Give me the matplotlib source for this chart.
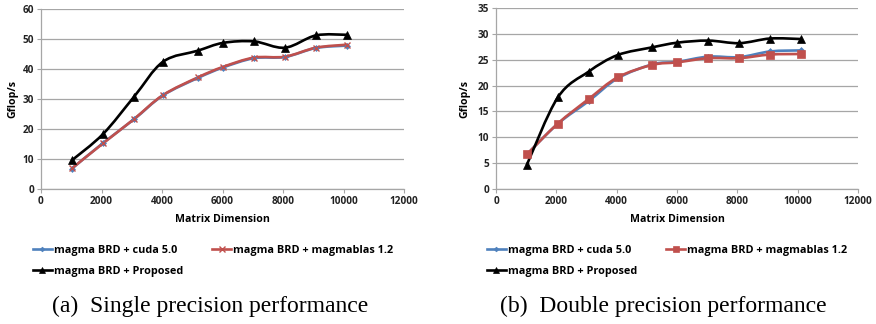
import numpy as np
import matplotlib
matplotlib.use("Agg")
import matplotlib.pyplot as plt
from matplotlib.path import Path
from matplotlib.patches import PathPatch
from matplotlib.lines import Line2D

# matrix sizes
sizes = [1024, 2048, 3072, 4032, 5184, 6016, 7040, 8064, 9088, 10112]

# single precision (Gflop/s)
sp_cuda = [6.8, 15.3, 23.2, 31.2, 37.0, 40.5, 43.6, 44.0, 47.0, 47.8]
sp_magmablas = [6.9, 15.2, 23.3, 31.3, 37.2, 40.7, 43.8, 44.1, 47.1, 48.1]
sp_proposed = [9.6, 18.3, 30.7, 42.4, 46.1, 48.7, 49.2, 47.1, 51.2, 51.4]

# double precision (Gflop/s)
dp_cuda = [6.7, 12.6, 17.0, 21.4, 24.1, 24.6, 25.6, 25.5, 26.6, 26.8]
dp_magmablas = [6.7, 12.65, 17.4, 21.6, 24.0, 24.5, 25.3, 25.3, 26.0, 26.1]
dp_proposed = [4.7, 17.7, 22.7, 25.9, 27.4, 28.3, 28.7, 28.2, 29.1, 29.0]

labels = ["magma BRD + cuda 5.0", "magma BRD + magmablas 1.2", "magma BRD + Proposed"]
captions = ["(a)  Single precision performance", "(b)  Double precision performance"]

BLUE = "#4F81BD"
RED = "#C0504D"
GRID = "#A6A6A6"
TICKFONT = dict(family="Open Sans", weight="bold", size=7.2)


def smooth_line(ax, x, y, color, lw=1.9, zorder=2):
    # Excel-style smoothed line: cubic Bezier segments through the points
    p = np.column_stack([x, y]).astype(float)
    ext = np.vstack([p[0], p, p[-1]])
    verts = [tuple(p[0])]
    codes = [Path.MOVETO]
    for i in range(len(p) - 1):
        p0, p1, p2, p3 = ext[i], ext[i + 1], ext[i + 2], ext[i + 3]
        c1 = p1 + (p2 - p0) / 6.0
        c2 = p2 - (p3 - p1) / 6.0
        verts += [tuple(c1), tuple(c2), tuple(p2)]
        codes += [Path.CURVE4] * 3
    patch = PathPatch(Path(verts, codes), facecolor="none", edgecolor=color,
                      lw=lw, zorder=zorder, transform=ax.transData,
                      capstyle="round", joinstyle="round")
    ax.add_patch(patch)


def draw_panel(ax, series, markers, ymax, ystep, ypad):
    colors = [BLUE, RED, "black"]
    for k in [1, 0, 2]:
        smooth_line(ax, sizes, series[k], colors[k], zorder=2 + k)
        ms = markers[k]
        ax.plot(sizes, series[k], linestyle="none", marker=ms[0], markersize=ms[1],
                color=colors[k], markeredgewidth=ms[2], zorder=5 + k)

    ax.set_xlim(0, 12000)
    ax.set_ylim(0, ymax)
    ax.set_xticks(np.arange(0, 12001, 2000))
    ax.set_yticks(np.arange(0, ymax + 0.1, ystep))
    ax.yaxis.grid(True, color=GRID, lw=0.9)
    ax.set_axisbelow(True)
    for s in ["top", "right"]:
        ax.spines[s].set_visible(False)
    for s in ["left", "bottom"]:
        ax.spines[s].set_color(GRID)
        ax.spines[s].set_linewidth(0.9)
    ax.tick_params(axis="both", length=3, color=GRID, pad=2)
    for t in ax.get_xticklabels() + ax.get_yticklabels():
        t.set_fontproperties(TICKFONT)
        t.set_color("#222222")
    ax.set_xlabel("Matrix Dimension", family="Open Sans", weight="bold", size=7.6, labelpad=5)
    ax.set_ylabel("Gflop/s", family="Open Sans", weight="bold", size=7.6, labelpad=ypad)

    handles = []
    for k in [0, 2, 1]:
        ms = markers[k]
        handles.append(Line2D([], [], color=colors[k], lw=1.9, marker=ms[0],
                              markersize=ms[1] * 0.8, markeredgewidth=ms[2],
                              label=labels[k]))
    return handles


fig = plt.figure(figsize=(8.76, 3.24), dpi=100)
W, H = 876.0, 324.0

ax1 = fig.add_axes([41 / W, 1 - 189 / H, (404 - 41) / W, (189 - 9) / H])
ax2 = fig.add_axes([496 / W, 1 - 189 / H, (858 - 496) / W, (189 - 8) / H])

h1 = draw_panel(ax1, [sp_cuda, sp_magmablas, sp_proposed],
                [("D", 3, 0.5), ("x", 5, 1.0), ("^", 5.5, 0.5)], 60, 10, 3)
h2 = draw_panel(ax2, [dp_cuda, dp_magmablas, dp_proposed],
                [("D", 3, 0.5), ("s", 5.5, 0.5), ("^", 5.5, 0.5)], 35, 5, 5)

legfont = dict(family="Open Sans", weight="bold", size=7.8)
for hs, x0 in [(h1, 33), (h2, 487)]:
    fig.legend(handles=hs, ncol=2, loc="upper left",
               bbox_to_anchor=(x0 / W, 1 - 245 / H), frameon=False,
               prop=legfont, handlelength=1.75, handletextpad=0.15,
               columnspacing=2.7, labelspacing=0.9, borderaxespad=0,
               borderpad=0)

fig.text(210 / W, 1 - 306 / H, captions[0], family="Liberation Serif", size=17,
         ha="center", va="center")
fig.text(663 / W, 1 - 306 / H, captions[1], family="Liberation Serif", size=17,
         ha="center", va="center")

fig.savefig("out.png", dpi=100)
